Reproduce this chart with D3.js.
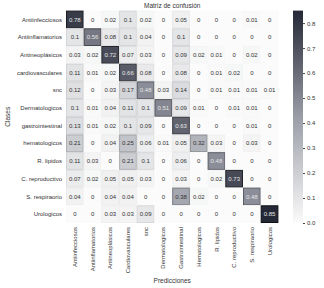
<!doctype html>
<html lang="es">
<head>
  <meta charset="utf-8">
  <title>Matriz de confusión - D3</title>
  <style>
    body { margin: 0; background: #fff; }
    text { font-family: "Liberation Sans", Arial, sans-serif; fill: #333; }
  </style>
</head>
<body>
  <svg></svg>
  <script src="https://cdn.jsdelivr.net/npm/d3@7"></script>
  <script>
    // etiquetas de clases (filas) y predicciones (columnas)
    var rowLabels = ['Antiinfecciosos', 'Antiinflamatorios', 'Antineoplásicos', 'cardiovasculares', 'snc',
      'Dermatologicos', 'gastrointestinal', 'hematologicos', 'R. lipidos', 'C. reproductivo',
      'S. respiraorio', 'Urologicos'];
    var colLabels = ['Antiinfecciosos', 'Antiinflamatorios', 'Antineoplásicos', 'Cardiovasculares', 'snc',
      'Dermatologicos', 'Gastrointestinal', 'Hematologicos', 'R. lipidos', 'C. reproductivo',
      'S. respiraorio', 'Urologicos'];
    // matriz de confusión normalizada
    var matrix = [
      [0.78, 0, 0.02, 0.1, 0.02, 0, 0.05, 0, 0, 0, 0.01, 0],
      [0.1, 0.56, 0.08, 0.1, 0.04, 0, 0.1, 0, 0, 0, 0, 0],
      [0.03, 0.02, 0.72, 0.07, 0.03, 0, 0.09, 0.02, 0.01, 0, 0.02, 0],
      [0.11, 0.01, 0.02, 0.66, 0.08, 0, 0.08, 0, 0.01, 0.02, 0, 0],
      [0.12, 0, 0.03, 0.17, 0.48, 0.03, 0.14, 0, 0.01, 0.01, 0.01, 0.01],
      [0.1, 0.01, 0.04, 0.11, 0.1, 0.51, 0.09, 0.01, 0, 0.01, 0.01, 0],
      [0.13, 0.01, 0.02, 0.1, 0.09, 0, 0.63, 0, 0, 0, 0.01, 0],
      [0.21, 0, 0.04, 0.25, 0.06, 0.01, 0.05, 0.32, 0.03, 0, 0.03, 0],
      [0.11, 0.03, 0, 0.21, 0.1, 0, 0.06, 0, 0.48, 0, 0, 0],
      [0.07, 0.02, 0.05, 0.05, 0.03, 0, 0.03, 0, 0.02, 0.73, 0, 0],
      [0.04, 0, 0.04, 0.04, 0, 0, 0.38, 0.02, 0, 0, 0.48, 0],
      [0, 0, 0.03, 0.03, 0.09, 0, 0, 0, 0, 0, 0, 0.85]
    ];
    var cbTicks = [0, 0.1, 0.2, 0.3, 0.4, 0.5, 0.6, 0.7, 0.8];

    var width = 324, height = 288;
    var mLeft = 66, mTop = 10.6, size = 212.4;

    var svg = d3.select('svg').attr('width', width).attr('height', height);

    var x = d3.scaleBand().domain(d3.range(colLabels.length)).range([mLeft, mLeft + size]);
    var y = d3.scaleBand().domain(d3.range(rowLabels.length)).range([mTop, mTop + size]);
    var vmax = d3.max(matrix, r => d3.max(r));
    var color = d3.scaleLinear().domain([0, vmax * 0.5, vmax])
      .range(['#fbfbfb', '#9a9da6', '#252836']);

    // celdas
    var cells = [];
    matrix.forEach((row, i) => row.forEach((v, j) => cells.push({ i: i, j: j, v: v })));

    var g = svg.append('g');
    g.selectAll('rect').data(cells).enter().append('rect')
      .attr('x', d => x(d.j) + 0.5)
      .attr('y', d => y(d.i) + 0.5)
      .attr('width', x.bandwidth() - 1)
      .attr('height', y.bandwidth() - 1)
      .attr('fill', d => color(d.v))
      .attr('stroke', d => d3.interpolateRgb(color(d.v), '#000')(d.v * 0.7))
      .attr('stroke-width', 1);

    g.selectAll('text').data(cells).enter().append('text')
      .attr('x', d => x(d.j) + x.bandwidth() / 2)
      .attr('y', d => y(d.i) + y.bandwidth() / 2)
      .attr('dy', '0.35em')
      .attr('text-anchor', 'middle')
      .style('font-size', '6px')
      .style('fill', d => d.v > vmax / 2 ? '#e6e6e6' : '#333')
      .text(d => d.v);

    // etiquetas de filas
    svg.append('g').selectAll('text').data(rowLabels).enter().append('text')
      .attr('x', mLeft - 4)
      .attr('y', (d, i) => y(i) + y.bandwidth() / 2)
      .attr('dy', '0.35em')
      .attr('text-anchor', 'end')
      .style('font-size', '6px')
      .text(d => d);

    // etiquetas de columnas (verticales)
    svg.append('g').selectAll('text').data(colLabels).enter().append('text')
      .attr('transform', (d, i) => 'translate(' + (x(i) + x.bandwidth() / 2) + ',' + (mTop + size + 4) + ') rotate(-90)')
      .attr('dy', '0.35em')
      .attr('text-anchor', 'end')
      .style('font-size', '6px')
      .text(d => d);

    // títulos
    svg.append('text').attr('x', mLeft + size / 2).attr('y', 8)
      .attr('text-anchor', 'middle').style('font-size', '6.5px').text('Matriz de confusión');
    svg.append('text').attr('x', mLeft + size / 2).attr('y', 283)
      .attr('text-anchor', 'middle').style('font-size', '6.5px').text('Predicciones');
    svg.append('text').attr('transform', 'translate(10,' + (mTop + size / 2) + ') rotate(-90)')
      .attr('text-anchor', 'middle').style('font-size', '6.5px').text('Clases');

    // barra de color
    var cbX = 293, cbW = 10;
    var cbScale = d3.scaleLinear().domain([0, vmax]).range([mTop + size, mTop]);
    var defs = svg.append('defs');
    var grad = defs.append('linearGradient').attr('id', 'cb')
      .attr('x1', 0).attr('y1', 1).attr('x2', 0).attr('y2', 0);
    d3.range(0, 1.01, 0.1).forEach(t => {
      grad.append('stop').attr('offset', t).attr('stop-color', color(t * vmax));
    });
    svg.append('rect').attr('x', cbX).attr('y', mTop).attr('width', cbW).attr('height', size)
      .attr('fill', 'url(#cb)');
    var cbAxis = d3.axisRight(cbScale).tickValues(cbTicks).tickSize(2).tickFormat(d3.format('.1f'));
    var cbg = svg.append('g').attr('transform', 'translate(' + (cbX + cbW) + ',0)').call(cbAxis);
    cbg.select('.domain').remove();
    cbg.selectAll('line').attr('stroke', '#444');
    cbg.selectAll('text').style('font-size', '6px').attr('x', 4)
      .style('font-family', '"Liberation Sans", Arial, sans-serif').attr('fill', '#333');
  </script>
</body>
</html>
